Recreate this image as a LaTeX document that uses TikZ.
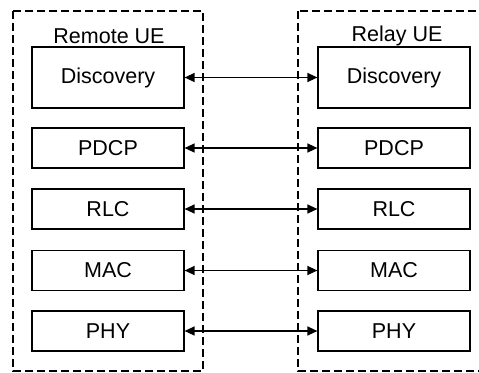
\documentclass[tikz,border=0pt]{standalone}
\usepackage{fontspec}
\setmainfont{Liberation Sans}
\usetikzlibrary{arrows.meta}
\begin{document}
\begin{tikzpicture}[x=1pt,y=-1pt,
  layer/.style={draw, line width=1.2pt, minimum width=152pt, inner sep=0pt, font=\fontsize{21.5}{25}\selectfont},
  group/.style={draw, dash pattern=on 8pt off 4pt, line width=1.1pt},
  link/.style={line width=1.3pt, {Triangle[length=10pt,width=9pt]}-{Triangle[length=10pt,width=9pt]}},
  lbl/.style={font=\fontsize{21.5}{25}\selectfont, inner sep=0pt}]
\useasboundingbox (0,0) rectangle (479,372);
\clip (0,0) rectangle (479,372);
\draw[group] (13,11) rectangle (203,371);
\draw[group] (298,11) rectangle (495,371);
\node[lbl] (lt) at (109,36) {Remote UE};
\node[lbl] (rt) at (397,36) {Relay UE};
\node[layer, minimum height=61pt] (l1) at (108,77.5) {Discovery};
\node[layer, minimum height=40pt] (l2) at (108,148) {PDCP};
\node[layer, minimum height=40pt] (l3) at (108,209) {RLC};
\node[layer, minimum height=40pt] (l4) at (108,270.5) {MAC};
\node[layer, minimum height=40pt] (l5) at (108,331) {PHY};
\node[layer, minimum height=61pt] (r1) at (394,77.5) {Discovery};
\node[layer, minimum height=40pt] (r2) at (394,148) {PDCP};
\node[layer, minimum height=40pt] (r3) at (394,209) {RLC};
\node[layer, minimum height=40pt] (r4) at (394,270.5) {MAC};
\node[layer, minimum height=40pt] (r5) at (394,331) {PHY};
\foreach \i in {1,...,5}{\draw[link] (l\i) -- (r\i);}
\end{tikzpicture}
\end{document}
